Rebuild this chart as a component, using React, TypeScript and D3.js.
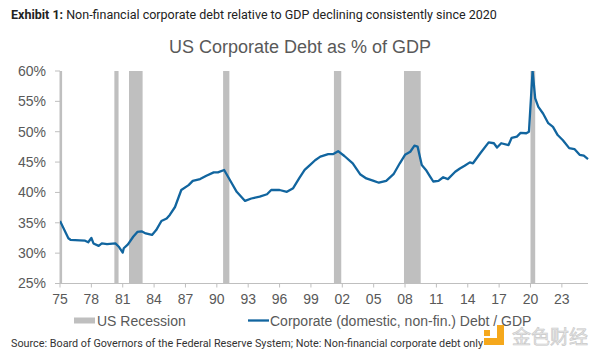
import React from "react";
import * as d3 from "d3";

const years = [
  1975.0, 1975.8, 1976.0, 1976.9, 1977.4, 1977.7, 1978.0, 1978.2, 1978.7, 1979.0,
  1979.5, 1980.3, 1980.6, 1981.0, 1981.1, 1981.5, 1982.0, 1982.4, 1982.8, 1983.2,
  1983.8, 1984.2, 1984.7, 1985.2, 1985.5, 1986.0, 1986.6, 1987.3, 1987.7, 1988.4,
  1989.0, 1989.7, 1990.1, 1990.7, 1991.25, 1991.9, 1992.7, 1993.3, 1994.1, 1994.8,
  1995.2, 1996.0, 1996.7, 1997.3, 1997.9, 1998.4, 1998.9, 1999.4, 1999.9, 2000.65,
  2001.1, 2001.6, 2002.2, 2003.0, 2003.7, 2004.3, 2005.0, 2005.5, 2006.2, 2006.9,
  2007.5, 2008.0, 2008.5, 2008.9, 2009.2, 2009.6, 2010.0, 2010.4, 2010.7, 2011.2,
  2011.65, 2012.1, 2012.8, 2013.25, 2013.7, 2014.2, 2014.5, 2015.2, 2016.0, 2016.5,
  2016.8, 2017.2, 2017.9, 2018.2, 2018.7, 2019.05, 2019.6, 2019.85, 2020.2, 2020.45,
  2020.75, 2021.2, 2021.7, 2022.15, 2022.6, 2023.1, 2023.7, 2024.2, 2024.7, 2025.1,
  2025.5,
];
const debtPct = [
  35.3, 32.45, 32.2, 32.1, 32.05, 31.8, 32.5, 31.6, 31.2, 31.6,
  31.5, 31.6, 31.1, 30.1, 30.8, 31.45, 32.7, 33.5, 33.6, 33.25,
  33.0, 33.8, 35.3, 35.7, 36.3, 37.6, 40.4, 41.2, 41.9, 42.2,
  42.75, 43.3, 43.3, 43.7, 42.05, 40.1, 38.6, 39.0, 39.3, 39.7,
  40.4, 40.4, 40.1, 40.7, 42.4, 43.7, 44.5, 45.3, 45.9, 46.3,
  46.3, 46.8, 46.0, 44.8, 43.0, 42.3, 41.9, 41.6, 41.9, 43.0,
  44.8, 46.2, 46.7, 47.7, 47.55, 44.5, 43.7, 42.6, 41.8, 41.9,
  42.5, 42.2, 43.4, 43.95, 44.4, 44.95, 44.8, 46.45, 48.25, 48.1,
  47.4, 48.1, 47.8, 49.0, 49.2, 49.8, 49.75, 50.0, 60.5, 55.5,
  54.1, 53.0, 51.4, 50.8, 49.45, 48.6, 47.3, 47.15, 46.2, 46.05,
  45.5,
];

const recessionStarts = [1975.0, 1980.2, 1981.6, 1990.6, 2001.2, 2007.9, 2020.0];
const recessionEnds = [1975.2, 1980.6, 1982.9, 1991.2, 2001.9, 2009.5, 2020.45];

const yTicks = [25, 30, 35, 40, 45, 50, 55, 60];
const xTicks = [1975, 1978, 1981, 1984, 1987, 1990, 1993, 1996, 1999, 2002, 2005, 2008, 2011, 2014, 2017, 2020, 2023];

const exhibitLabel = "Exhibit 1:";
const subtitle = " Non-financial corporate debt relative to GDP declining consistently since 2020";
const title = "US Corporate Debt as % of GDP";
const legendRecession = "US Recession";
const legendSeries = "Corporate (domestic, non-fin.) Debt / GDP";
const source = "Source: Board of Governors of the Federal Reserve System; Note: Non-financial corporate debt only";
const watermark = "金色财经";

export default function App() {
  const W = 600, H = 357;
  const left = 60, right = 588, top = 71, bottom = 283.5;
  const x = d3.scaleLinear().domain([1975, 2025.5]).range([left, right]);
  const y = d3.scaleLinear().domain([25, 60]).range([bottom, top]);
  const data = years.map((yr, i) => ({ yr, v: debtPct[i] }));
  const line = d3.line<{ yr: number; v: number }>()
    .x((d) => x(d.yr))
    .y((d) => y(Math.min(d.v, 60)))
    .curve(d3.curveLinear);
  const axisColor = "#bfbfbf";
  const textColor = "#595959";
  const blue = "#11659f";
  const font = "'Liberation Sans', Arial, sans-serif";

  return (
    <svg width={W} height={H} style={{ position: "absolute", left: 0, top: 0, background: "#fff" }}
      fontFamily={font}>
      <rect x={0} y={0} width={W} height={H} fill="#fff" />
      <text x={11} y={19} fontSize={12.5} fill="#222" fontFamily="Roboto, sans-serif">
        <tspan fontWeight="bold">{exhibitLabel}</tspan>
        <tspan>{subtitle}</tspan>
      </text>
      <text x={300} y={53} fontSize={18} fill={textColor} textAnchor="middle">{title}</text>

      <defs>
        <clipPath id="plotClip">
          <rect x={left} y={top} width={right - left + 2} height={bottom - top} />
        </clipPath>
      </defs>

      {recessionStarts.map((s, i) => (
        <rect key={i} x={x(s)} y={top} width={x(recessionEnds[i]) - x(s)} height={bottom - top} fill="#bfbfbf" />
      ))}

      <line x1={left} x2={left} y1={top} y2={bottom} stroke={axisColor} strokeWidth={1} />
      {yTicks.map((t) => (
        <g key={t}>
          <line x1={left - 5} x2={left} y1={y(t)} y2={y(t)} stroke={axisColor} />
          <text x={46} y={y(t)} dy="0.35em" textAnchor="end" fontSize={14} fill={textColor}>{t}%</text>
        </g>
      ))}

      <line x1={left} x2={right} y1={bottom} y2={bottom} stroke={axisColor} strokeWidth={1} />
      {xTicks.map((t) => (
        <g key={t}>
          <line x1={x(t)} x2={x(t)} y1={bottom} y2={bottom + 4} stroke={axisColor} />
          <text x={x(t)} y={bottom + 16} dy="0.35em" textAnchor="middle" fontSize={14} fill={textColor}>
            {String(t % 100).padStart(2, "0")}
          </text>
        </g>
      ))}

      <path d={line(data) || ""} fill="none" stroke={blue} strokeWidth={2.3} strokeLinejoin="round" clipPath="url(#plotClip)" />

      <rect x={74} y={317.5} width={21} height={6} fill="#bfbfbf" />
      <text x={97} y={321} dy="0.35em" fontSize={14} fill={textColor}>{legendRecession}</text>
      <line x1={248} x2={269} y1={320.5} y2={320.5} stroke={blue} strokeWidth={2.3} />
      <text x={270} y={321} dy="0.35em" fontSize={14} fill={textColor}>{legendSeries}</text>

      <text x={11} y={343} dy="0.35em" fontSize={10.8} fill="#333" fontFamily="Roboto, sans-serif">{source}</text>

      <g fill="#f5a81c">
        <rect x={484} y={330} width={6} height={6} />
        <rect x={497} y={325} width={7} height={20} />
        <rect x={484} y={338} width={20} height={7} />
      </g>
      <text x={512} y={337} dy="0.35em" fontSize={19} fill="#e6e6e6" stroke="#c8c8c8" strokeWidth={0.6}
        fontFamily="'Noto Sans CJK SC', sans-serif">{watermark}</text>
    </svg>
  );
}
